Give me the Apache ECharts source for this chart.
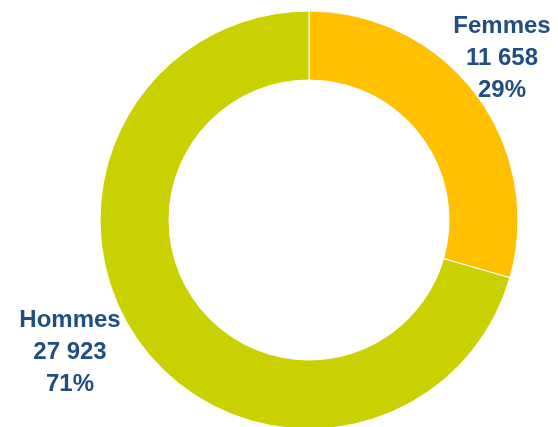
<!DOCTYPE html>
<html>
<head>
<meta charset="utf-8">
<script src="https://cdn.jsdelivr.net/npm/echarts@6/dist/echarts.min.js"></script>
<style>
  html, body { margin: 0; padding: 0; background: #fff; }
  #chart { width: 558px; height: 427px; }
</style>
</head>
<body>
<div id="chart"></div>
<script>
  const categories = ['Femmes', 'Hommes'];
  const counts = [11658, 27923];
  const percents = ['29%', '71%'];
  const colors = ['#FFC000', '#C9D200'];

  // label anchor offsets from the pie centre (layout only)
  const labelSpots = [[193, -162], [-239, 132]];
  const centre = [309, 220];

  function fmtNum(n) {
    return String(n).replace(/\B(?=(\d{3})+(?!\d))/g, ' ');
  }

  const chart = echarts.init(document.getElementById('chart'));
  chart.setOption({
    animation: false,
    series: [
      {
        type: 'pie',
        center: centre,
        radius: [140, 209],
        startAngle: 90,
        clockwise: true,
        avoidLabelOverlap: false,
        itemStyle: { borderColor: '#fff', borderWidth: 1 },
        label: {
          show: true,
          position: 'outside',
          color: '#1F4E82',
          fontFamily: 'Liberation Sans',
          fontWeight: 'bold',
          fontSize: 24,
          lineHeight: 32,
          align: 'center',
          overflow: 'none',
          bleedMargin: 0,
          formatter: p => p.name + '\n' + fmtNum(counts[p.dataIndex]) + '\n' + percents[p.dataIndex],
        },
        labelLine: { show: false },
        labelLayout: params => {
          const s = labelSpots[params.dataIndex];
          return {
            x: centre[0] + s[0],
            y: centre[1] + s[1],
            align: 'center',
            verticalAlign: 'middle',
          };
        },
        data: categories.map((c, i) => ({
          name: c,
          value: counts[i],
          itemStyle: { color: colors[i] },
        })),
      },
    ],
  });
</script>
</body>
</html>
